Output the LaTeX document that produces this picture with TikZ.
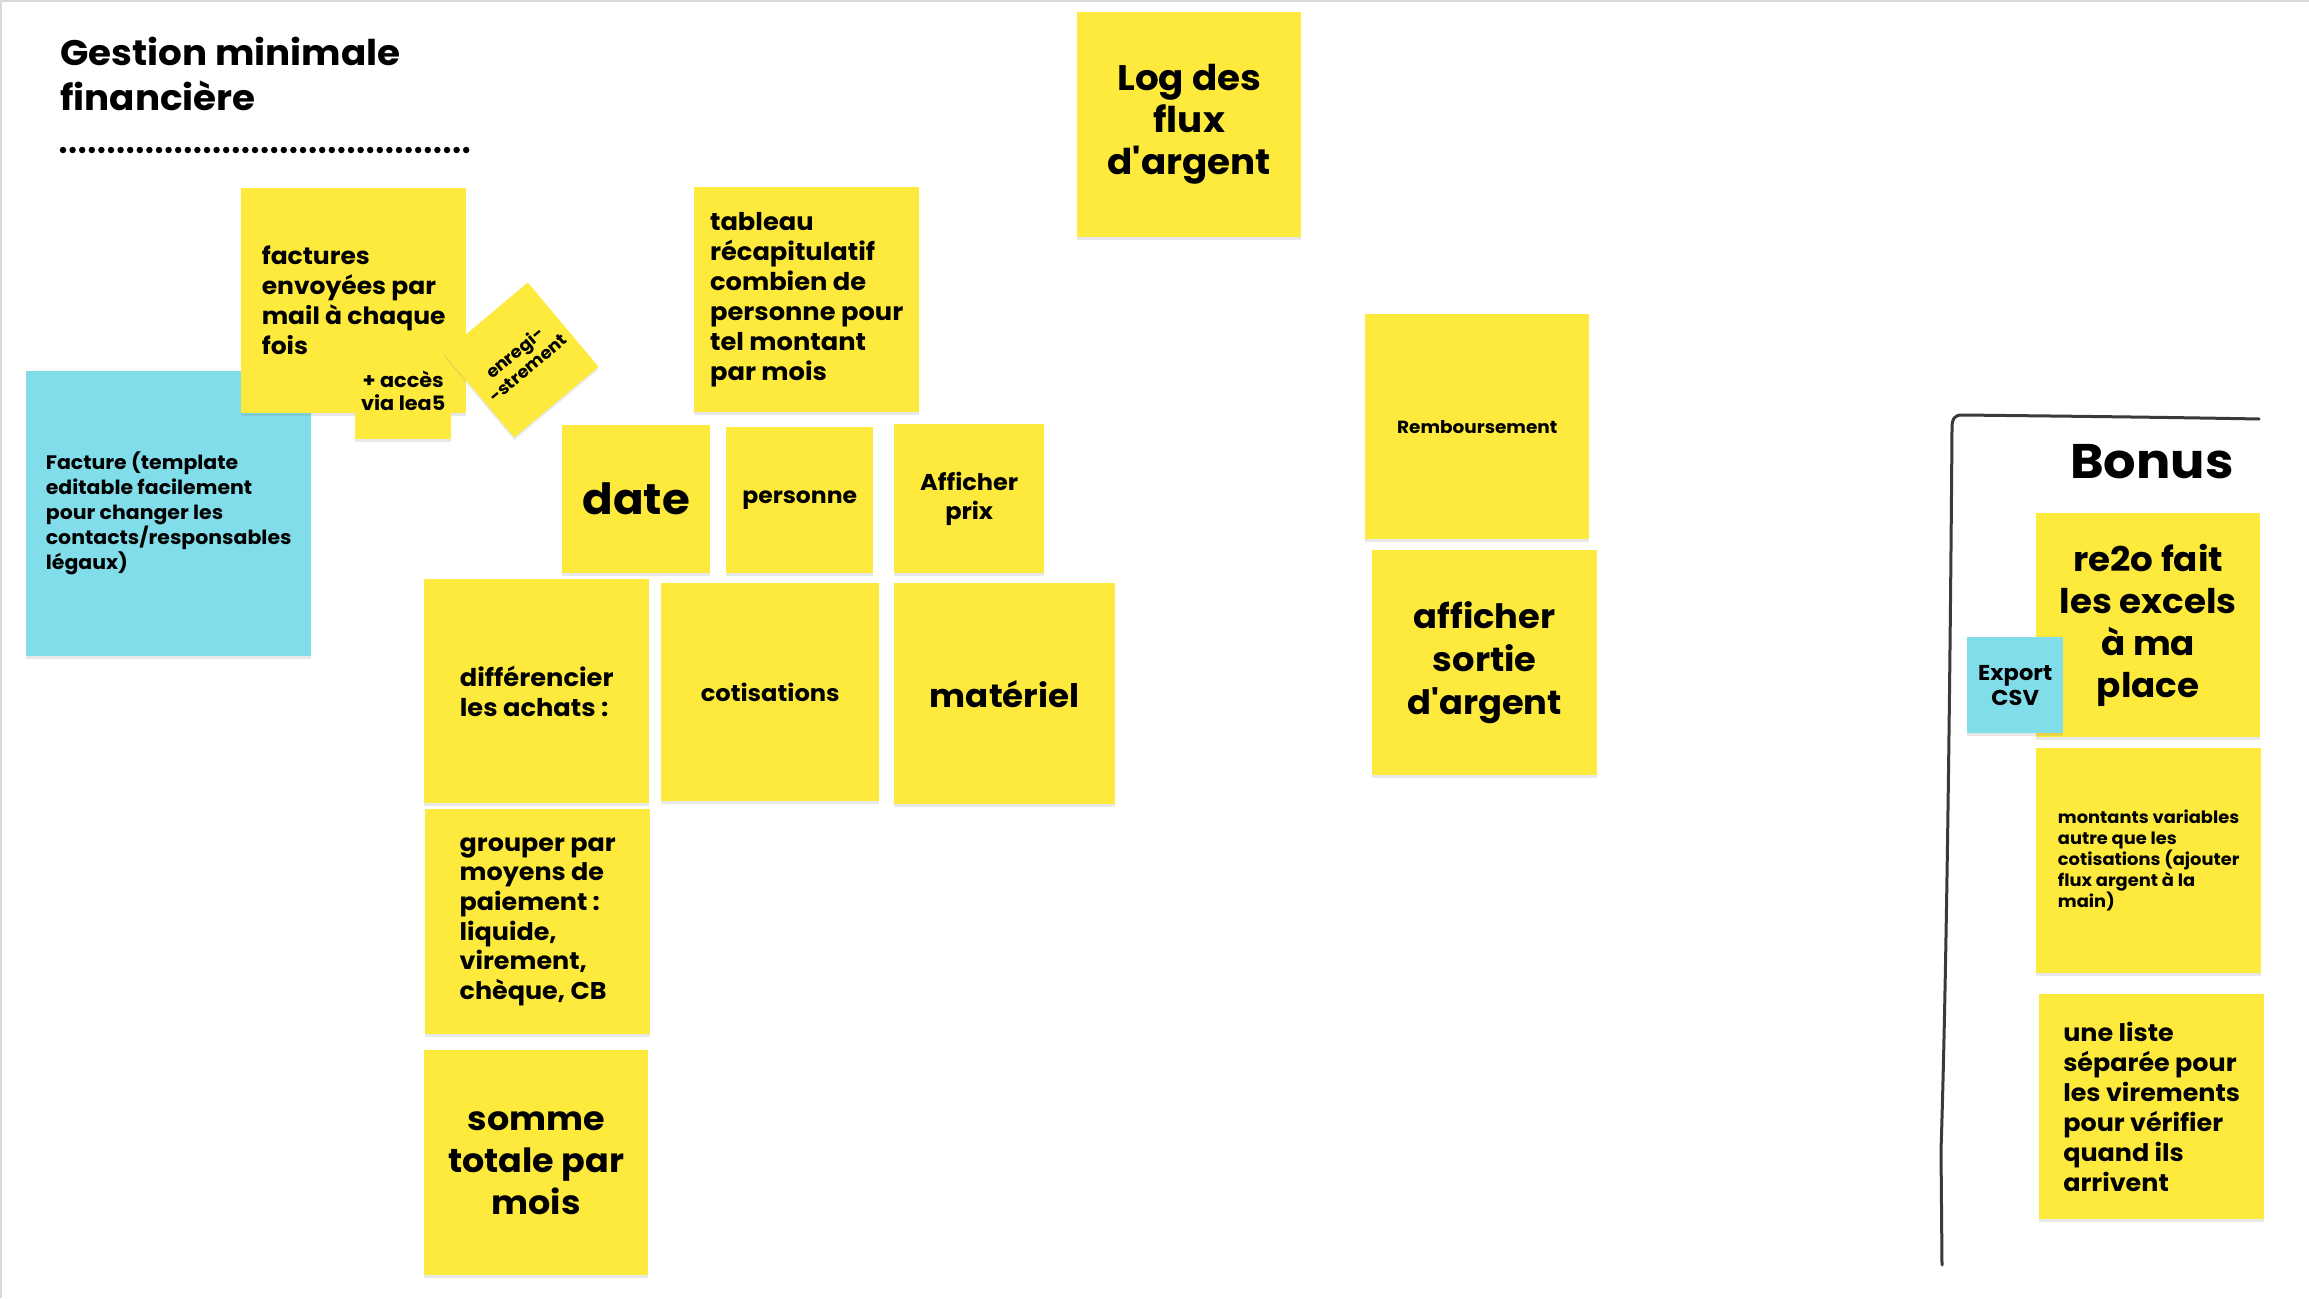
\documentclass[tikz,border=0pt]{standalone}
\usepackage{fontspec}
\setmainfont{Poppins}[Ligatures=TeXOff, FakeStretch=1.05]
\usetikzlibrary{shadows}
\definecolor{ynote}{RGB}{254,234,61}
\definecolor{cnote}{RGB}{128,221,233}
\definecolor{penink}{RGB}{58,58,58}
\definecolor{edgegray}{RGB}{218,218,222}
\newcommand{\fsz}[2]{\fontsize{#1}{#2}\selectfont\bfseries}
\begin{document}
\begin{tikzpicture}[x=1pt,y=-1pt,
  sticky/.style={fill=ynote, inner sep=0pt, anchor=north west,
    drop shadow={shadow xshift=0pt,shadow yshift=-2.5pt,opacity=.18}},
  cstick/.style={sticky, fill=cnote},
]
\useasboundingbox (0,0) rectangle (2309,1298);
\fill[white] (0,0) rectangle (2309,1298);
\draw[edgegray, line width=2pt] (1,1298) -- (1,1) -- (2309,1);

% title
\node[anchor=north west, inner sep=0pt, align=left, font=\fsz{35.5}{45}] (title) at (60,37) {Gestion minimale\\financière};
\coordinate (d1) at (63,150);
\coordinate (d2) at (468,150);
\draw[line width=6.5pt, line cap=round, dash pattern=on 0pt off 9.6pt] (d1) -- (d2);

% left cluster
\node[cstick, minimum width=285, minimum height=285, align=left, font=\fsz{19.5}{25}] (facture) at (26,371)
  {Facture (template\\editable facilement\\pour changer les\\contacts/responsables\\légaux)};
\node[sticky, minimum width=225, minimum height=225, align=left, font=\fsz{23.8}{30}] (factures) at (241,188)
  {factures\\envoyées par\\mail à chaque\\fois};
\node[sticky, minimum width=96, minimum height=96, align=center, font=\fsz{19.8}{23}] (acces) at (355,343)
  {+ accès\\via lea5};
\node[sticky, anchor=center, rotate=40, minimum width=110, minimum height=110, align=center, font=\fsz{17}{20}] (enreg) at (521,360)
  {enregi-\\-strement};
\node[sticky, minimum width=225, minimum height=225, align=left, font=\fsz{24.5}{30}] (tableau) at (694,187)
  {tableau\\récapitulatif\\combien de\\personne pour\\tel montant\\par mois};

% middle grid
\node[sticky, minimum width=148, minimum height=148, font=\fsz{43}{50}] (date) at (562,425) {date};
\node[sticky, minimum width=147, minimum height=146, font=\fsz{22.4}{26}] (personne) at (726,427) {personne};
\node[sticky, minimum width=150, minimum height=149, align=center, font=\fsz{22.9}{29}] (prix) at (894,424) {Afficher\\prix};
\node[sticky, minimum width=225, minimum height=224, align=left, font=\fsz{24.5}{30}] (diff) at (424,579) {différencier\\les achats :};
\node[sticky, minimum width=218, minimum height=218, font=\fsz{23}{26}] (cotis) at (661,583) {cotisations};
\node[sticky, minimum width=221, minimum height=221, font=\fsz{32.4}{40}] (materiel) at (894,583) {matériel};
\node[sticky, minimum width=225, minimum height=225, align=left, font=\fsz{24.2}{29.6}] (grouper) at (425,809)
  {grouper par\\moyens de\\paiement :\\liquide,\\virement,\\chèque, CB};
\node[sticky, minimum width=224, minimum height=225, align=center, font=\fsz{33.3}{42}] (somme) at (424,1050)
  {somme\\totale par\\mois};

% log / right middle
\node[sticky, minimum width=224, minimum height=225, align=center, font=\fsz{35.5}{42}] (log) at (1077,12)
  {Log des\\flux\\d'argent};
\node[sticky, minimum width=224, minimum height=225, font=\fsz{17.6}{20}] (rembours) at (1365,314) {Remboursement};
\node[sticky, minimum width=225, minimum height=225, align=center, font=\fsz{33.6}{43}] (sortie) at (1372,550)
  {afficher\\sortie\\d'argent};

% bonus
\draw[penink, line width=3pt, line cap=round, line join=round]
  (2259,419) .. controls (2150,417) and (2050,416) .. (1962,415)
  .. controls (1955,415) and (1952,418) .. (1952,428)
  .. controls (1950,700) and (1946,1000) .. (1941,1150) -- (1942,1265);
\node[anchor=base, inner sep=0pt, font=\fsz{48.6}{56}] (bonus) at (2152,478) {Bonus};
\node[sticky, minimum width=224, minimum height=224, align=center, font=\fsz{34}{42}] (re2o) at (2036,513)
  {re2o fait\\les excels\\à ma\\place};
\node[cstick, minimum width=96, minimum height=96, align=center, font=\fsz{21.5}{25}] (export) at (1967,637)
  {Export\\CSV};
\node[sticky, minimum width=225, minimum height=225, align=left, font=\fsz{17}{21}] (montants) at (2036,748)
  {montants variables\\autre que les\\cotisations (ajouter\\flux argent à la\\main)};
\node[sticky, minimum width=225, minimum height=225, align=left, font=\fsz{24.2}{30}] (liste) at (2039,994)
  {une liste\\séparée pour\\les virements\\pour vérifier\\quand ils\\arrivent};
\end{tikzpicture}
\end{document}
